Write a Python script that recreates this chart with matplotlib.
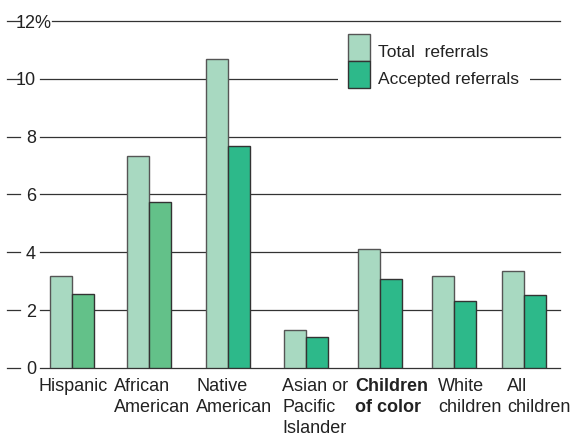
import numpy as np
import matplotlib
matplotlib.use("Agg")
import matplotlib.pyplot as plt
from matplotlib.patches import Rectangle
from matplotlib.lines import Line2D

plt.rcParams['font.family'] = ['Liberation Sans', 'DejaVu Sans']

# data
groups = ['Hispanic', 'African\nAmerican', 'Native\nAmerican', 'Asian or\nPacific\nIslander',
          'Children\nof color', 'White\nchildren', 'All\nchildren']
total = [3.19, 7.34, 10.68, 1.30, 4.11, 3.18, 3.37]
accepted = [2.55, 5.73, 7.68, 1.07, 3.08, 2.32, 2.53]
yticks = [0, 2, 4, 6, 8, 10, 12]

# layout (category units)
pos = np.array([0, 1.022, 2.071, 3.102, 4.089, 5.071, 6.0])
label_x = [-0.451, 0.558, 1.646, 2.788, 3.757, 4.859, 5.775]
w = 0.292

c_total = '#a8d9c1'
c_acc = ['#63c189', '#63c189', '#2db98a', '#2db98a', '#2db98a', '#2db98a', '#2db98a']
ink = '#222222'

W, H = 571, 437
fig = plt.figure(figsize=(W / 100, H / 100), dpi=100)
fig.patch.set_facecolor('white')

def fx(x):
    return x / W

def fy(y):
    return 1 - y / H

ax = fig.add_axes([fx(40), fy(368), 520 / W, 347 / H])
ax.set_xlim(-0.425, 6.478)
ax.set_ylim(0, 12)
ax.axis('off')

# gridlines, tick dashes and tick labels
for t in yticks:
    yp = 368 - t * 347 / 12
    x0 = fx(52) if t == 12 else fx(40)
    fig.add_artist(Line2D([x0, fx(560)], [fy(yp)] * 2, color='#333333', lw=0.9, zorder=0))
    fig.add_artist(Line2D([fx(7), fx(20)], [fy(yp)] * 2, color='#333333', lw=0.9))
    if t == 12:
        fig.text(fx(16), fy(yp + 6.5), '12%', ha='left', va='baseline', fontsize=13, color=ink)
    else:
        fig.text(fx(36), fy(yp + 6.5), str(t), ha='right', va='baseline', fontsize=13, color=ink)

ax.bar(pos - w / 2, total, width=w, color=c_total, edgecolor='#555555', lw=1.0, zorder=3)
ax.bar(pos + w / 2, accepted, width=w, color=c_acc, edgecolor='#333333', lw=1.0, zorder=3)

for i, g in enumerate(groups):
    ax.annotate(g, xy=(label_x[i], 0), xycoords=('data', 'axes fraction'),
                xytext=(0, -10), textcoords='offset pixels', ha='left', va='top',
                fontsize=13, color=ink, linespacing=1.32,
                fontweight='bold' if i == 4 else 'normal', annotation_clip=False)

# legend
fig.add_artist(Rectangle((fx(338), fy(95)), fx(530) - fx(338), fy(28) - fy(95),
                         transform=fig.transFigure, facecolor='white', edgecolor='none', zorder=1))
fig.add_artist(Rectangle((fx(348), fy(61)), fx(370) - fx(348), fy(34) - fy(61),
                         transform=fig.transFigure, facecolor=c_total, edgecolor='#555555', lw=1.0,
                         zorder=2))
fig.add_artist(Rectangle((fx(348), fy(88)), fx(370) - fx(348), fy(61) - fy(88),
                         transform=fig.transFigure, facecolor='#2db98a', edgecolor='#333333', lw=1.0,
                         zorder=2))
fig.text(fx(378), fy(57), 'Total  referrals', ha='left', va='baseline', fontsize=12.5, color=ink)
fig.text(fx(378), fy(84), 'Accepted referrals', ha='left', va='baseline', fontsize=12.5, color=ink)

fig.savefig('out.png', dpi=100)
